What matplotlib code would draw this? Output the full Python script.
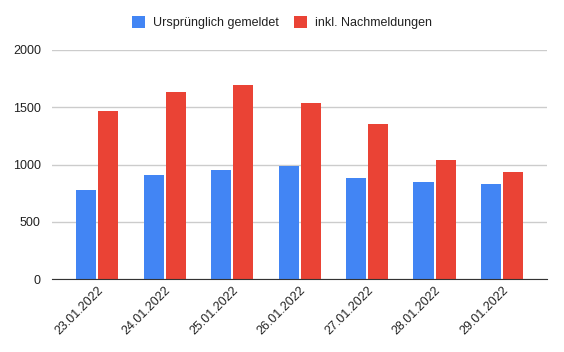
import matplotlib
matplotlib.use('Agg')
import matplotlib.pyplot as plt
import numpy as np

plt.rcParams['font.family'] = ['Liberation Sans', 'DejaVu Sans']

dates = ['23.01.2022', '24.01.2022', '25.01.2022', '26.01.2022',
         '27.01.2022', '28.01.2022', '29.01.2022']
original = [779, 910, 954, 989, 884, 849, 832]
with_late = [1469, 1634, 1695, 1538, 1355, 1041, 936]
series_names = ['Ursprünglich gemeldet', 'inkl. Nachmeldungen']

fig = plt.figure(figsize=(5.64, 3.52), dpi=100)
ax = fig.add_axes([0.0922, 0.2065, 0.878, 0.6515])

x = np.arange(len(dates))
w = 0.297
ax.bar(x - 0.1635, original, w, color='#4285F4', label=series_names[0], zorder=3)
ax.bar(x + 0.1635, with_late, w, color='#EA4335', label=series_names[1], zorder=3)

ax.set_xlim(-0.67, len(dates) - 1 + 0.67)
ax.set_ylim(0, 2000)
ax.set_yticks([0, 500, 1000, 1500, 2000])
ax.grid(axis='y', color='#cccccc', linewidth=1, zorder=0)
for s in ['top', 'right', 'left']:
    ax.spines[s].set_visible(False)
ax.spines['bottom'].set_color('#333333')
ax.spines['bottom'].set_zorder(4)
ax.tick_params(axis='both', length=0, labelsize=9, labelcolor='#222222')
ax.tick_params(axis='y', pad=8)
ax.set_xticks(x)
ax.set_xticklabels(dates, rotation=45, ha='right', rotation_mode='anchor')

fig.legend(loc='center', bbox_to_anchor=(0.5, 0.935), ncol=2, frameon=False,
           fontsize=9, handlelength=1.05, handleheight=1.05, columnspacing=1.2,
           handletextpad=0.65, labelcolor='#222222')

plt.savefig('out.png', dpi=100)
